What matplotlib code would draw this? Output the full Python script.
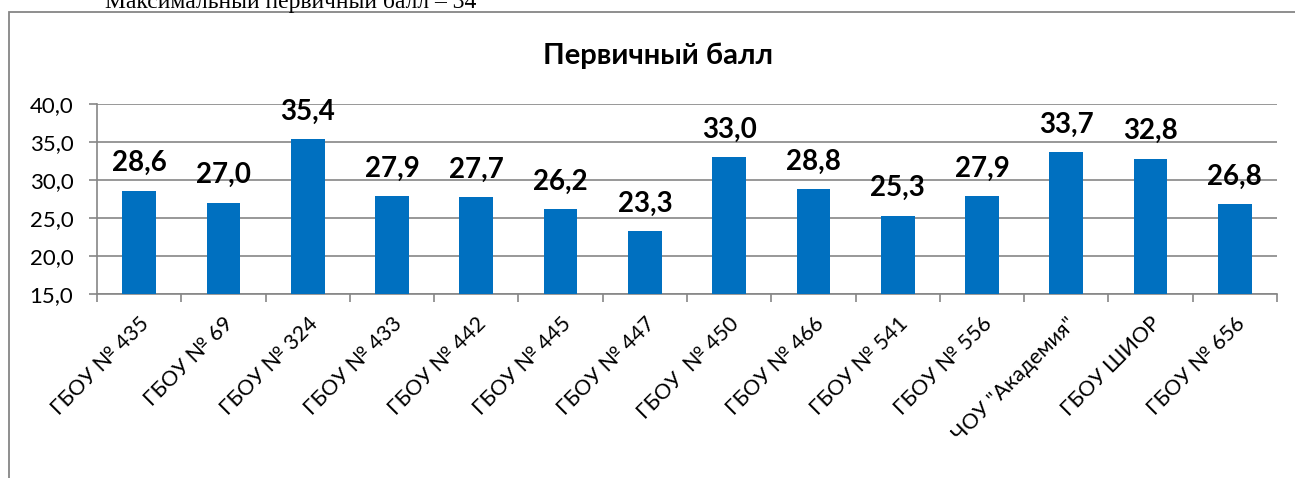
import matplotlib
matplotlib.use("Agg")
import matplotlib.pyplot as plt
from matplotlib.patches import Rectangle
import numpy as np

plt.rcParams['font.family'] = ['Lato', 'DejaVu Sans']

schools = ['ГБОУ № 435', 'ГБОУ № 69', 'ГБОУ № 324', 'ГБОУ № 433', 'ГБОУ № 442',
           'ГБОУ № 445', 'ГБОУ № 447', 'ГБОУ  № 450', 'ГБОУ № 466', 'ГБОУ № 541',
           'ГБОУ № 556', 'ЧОУ "Академия"', 'ГБОУ ШИОР', 'ГБОУ № 656']
scores = [28.6, 27.0, 35.4, 27.9, 27.7, 26.2, 23.3, 33.0, 28.8, 25.3, 27.9, 33.7, 32.8, 26.8]
y_ticks = [15, 20, 25, 30, 35, 40]

grey = '#868686'
blue = '#0070C0'

fig = plt.figure(figsize=(12.95, 4.78), dpi=100)

# chart frame (cut off on the right and bottom)
fig.patches.append(Rectangle((9 / 1295, -0.1), 1.2, 1 - 12 / 478 + 0.1,
                             transform=fig.transFigure, fill=False,
                             edgecolor=grey, linewidth=1.3))

# text above the chart, mostly cut off
fig.text(105 / 1295, 1 - 8 / 478, 'Максимальный первичный балл – 34',
         family='Liberation Serif', fontsize=17, va='baseline', ha='left')

ax = fig.add_axes([97 / 1295, 1 - 294 / 478, 1180 / 1295, 190 / 478])
x = np.arange(len(schools))
ax.bar(x, scores, width=0.4, color=blue, zorder=3)
ax.set_xlim(-0.5, len(schools) - 0.5)
ax.set_ylim(15, 40)
ax.set_yticks(y_ticks)
ax.set_yticklabels([f'{t:.1f}'.replace('.', ',') for t in y_ticks], fontsize=16)
ax.grid(axis='y', color=grey, linewidth=1.2, zorder=0)

ax.set_xticks(x)
ax.set_xticklabels(schools, rotation=45, ha='right', va='top',
                   rotation_mode='anchor', fontsize=15.5)
ax.set_xticks(np.arange(-0.5, len(schools)), minor=True)
ax.tick_params(axis='x', which='major', length=0, pad=14)
ax.tick_params(axis='x', which='minor', length=6, color=grey, width=1.2)
ax.tick_params(axis='y', length=6, color=grey, width=1.2, pad=11)

for s in ['top', 'right']:
    ax.spines[s].set_visible(False)
for s in ['left', 'bottom']:
    ax.spines[s].set_color(grey)
    ax.spines[s].set_linewidth(1.2)

for xi, v in zip(x, scores):
    ax.annotate(f'{v:.1f}'.replace('.', ','), (xi, v), xytext=(0, 14),
                textcoords='offset points', ha='center', va='baseline',
                fontsize=20, fontweight='bold', annotation_clip=False)

fig.text(658 / 1295, 1 - 64 / 478, 'Первичный балл', ha='center', va='baseline',
         fontsize=21, fontweight='bold')

fig.savefig('out.png', dpi=100)
